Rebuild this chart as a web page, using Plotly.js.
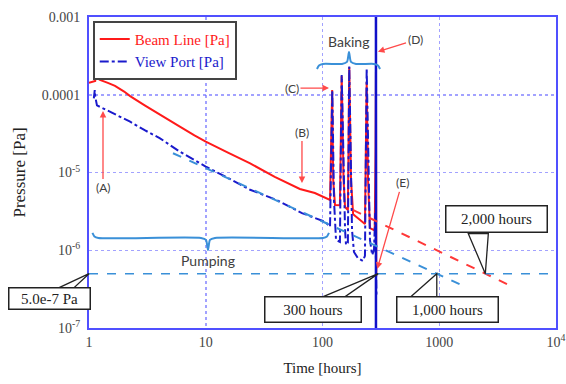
<!DOCTYPE html>
<html>
<head>
<meta charset="utf-8">
<script src="https://cdn.plot.ly/plotly-3.0.1.min.js"></script>
<style>html,body{margin:0;padding:0;background:#fff;}#chart{width:566px;height:384px;}</style>
</head>
<body>
<div id="chart"></div>
<script>
// ---- data ----
const beamX = [1.0, 1.08, 1.13, 1.15, 1.17, 1.2, 1.24, 1.45, 1.67, 2.0, 2.25, 3.0, 4.06, 6.0, 8.0, 10, 15.5, 24, 39, 55, 64, 86, 109, 116, 121, 123.5, 128, 141, 146, 151.5, 156, 165, 169.5, 175.5, 183, 210, 231, 239, 245.5, 255, 270, 280, 285, 287, 289];
const beamY = [1.42e-4, 1.46e-4, 1.5e-4, 2.27e-4, 1.7e-4, 1.6e-4, 1.55e-4, 1.42e-4, 1.3e-4, 1.1e-4, 9.6e-5, 7.3e-5, 5.5e-5, 3.88e-5, 3.0e-5, 2.49e-5, 1.8e-5, 1.31e-5, 8.8e-6, 6.8e-6, 6.14e-6, 5.44e-6, 4.7e-6, 4.43e-6, 1.15e-4, 8e-6, 3.82e-6, 3.8e-6, 1.74e-4, 8e-6, 3.6e-6, 3.3e-6, 2.27e-4, 8e-6, 2.9e-6, 2.45e-6, 2.18e-6, 1.46e-4, 8e-6, 1.93e-6, 1.82e-6, 1.8e-6, 2.0e-5, 2.0e-4, 4.7e-7];

const viewX = [1.1, 1.12, 1.13, 1.15, 1.17, 1.24, 1.6, 2.25, 3.0, 4.06, 6.0, 10, 15.5, 24, 40.5, 66.7, 105, 116, 121.3, 123, 125.4, 130.5, 141, 146, 150, 156, 159, 165, 169.5, 174, 179, 186, 201, 222, 231, 239, 245.5, 255, 266, 276, 283, 290];
const viewY = [9.0e-5, 1.15e-4, 9.5e-5, 7.6e-5, 7.3e-5, 7.0e-5, 5.8e-5, 4.5e-5, 3.5e-5, 2.75e-5, 1.85e-5, 1.19e-5, 8.5e-6, 6.0e-6, 4.43e-6, 3.0e-6, 2.33e-6, 2.01e-6, 1.15e-4, 2.62e-5, 4.43e-6, 1.36e-6, 1.28e-6, 1.8e-4, 1.95e-5, 1.82e-6, 1.17e-6, 1.25e-6, 2.3e-4, 1.95e-5, 1.82e-6, 9.5e-7, 7.9e-7, 7.3e-7, 8.5e-7, 2.2e-4, 1.95e-5, 1.36e-6, 8.7e-7, 1.0e-6, 3.0e-6, 2.5e-7];

const bakeEndX = [287, 287];
const bakeEndY = [1e-3, 1e-7];

const fitBeamX = [182, 4285];
const fitBeamY = [3.3e-6, 3.37e-7];
const fitViewX = [5.24, 1557];
const fitViewY = [1.77e-5, 3.57e-7];

const targetPressure = 5e-7;
const thresholdX = [1, 10000];

const xTickVals = [1, 10, 100, 1000, 10000];
const xTickText = ['1', '10', '100', '1000', '10<sup>4</sup>'];
const yTickVals = [1e-7, 1e-6, 1e-5, 1e-4, 1e-3];
const yTickText = ['10<sup>-7</sup>', '10<sup>-6</sup>', '10<sup>-5</sup>', '0.0001', '0.001'];

const calloutLabels = ['5.0e-7 Pa', '300 hours', '1,000 hours', '2,000 hours'];

// ---- geometry helpers ----
const M = {l: 89, r: 10, t: 17, b: 56};
const PW = 566 - M.l - M.r, PH = 384 - M.t - M.b;
const XR = [0, 4], YR = [-7, -3];
const L = Math.log10;
const xp = x => (L(x) - XR[0]) / (XR[1] - XR[0]);
const yp = y => (L(y) - YR[0]) / (YR[1] - YR[0]);
const sx = (x, px) => x * Math.pow(10, px * (XR[1] - XR[0]) / PW);
const sy = (y, py) => y * Math.pow(10, -py * (YR[1] - YR[0]) / PH);
function crossing(fx, fy, y) {
  const a = (L(fy[1]) - L(fy[0])) / (L(fx[1]) - L(fx[0]));
  return Math.pow(10, L(fx[0]) + (L(y) - L(fy[0])) / a);
}
const t1000 = crossing(fitViewX, fitViewY, targetPressure);
const t2000 = crossing(fitBeamX, fitBeamY, targetPressure);
const calloutX = [1, 300, t1000, t2000];

function brace(x0, x1, xc, yBar, dir) { // dir: +1 hooks down/tip up, -1 hooks up/tip down
  const hook = sy(yBar, 5 * dir), tip = sy(yBar, -12 * dir);
  return {
    x: [x0, sx(x0, 2), sx(x0, 6), sx(xc, -7), sx(xc, -2), xc, sx(xc, 2), sx(xc, 7), sx(x1, -6), sx(x1, -2), x1],
    y: [hook, sy(yBar, 1.5 * dir), yBar, yBar, sy(yBar, -2 * dir), tip, sy(yBar, -2 * dir), yBar, yBar, sy(yBar, 1.5 * dir), hook],
    tip: tip
  };
}
const bake = brace(89.7, 311, 168.6, 2.49e-4, 1);
const pump = brace(1.07, 113.6, 10.45, 1.44e-6, -1);

const serif = 'Liberation Serif, Times New Roman, serif';
const sans = 'Lato, Open Sans, sans-serif';
const lightBlue = '#3a90d8';
const arrowRed = '#ff4a4a';

const traces = [
  {x: beamX, y: beamY, mode: 'lines', name: '<span style="color:#ff1a1a">Beam Line [Pa]</span>',
   line: {color: '#ff1a1a', width: 2}},
  {x: viewX, y: viewY, mode: 'lines', name: '<span style="color:#1a1acc">View Port [Pa]</span>',
   line: {color: '#1a1acc', width: 2, dash: 'dashdot'}},
  {x: bakeEndX, y: bakeEndY, mode: 'lines', showlegend: false, line: {color: '#1010c8', width: 2.5}},
  {x: fitBeamX, y: fitBeamY, mode: 'lines', showlegend: false, line: {color: '#ff3838', width: 2, dash: 'dash'}},
  {x: fitViewX, y: fitViewY, mode: 'lines', showlegend: false, line: {color: lightBlue, width: 2, dash: 'dash'}},
  {x: thresholdX, y: [targetPressure, targetPressure], mode: 'lines', showlegend: false, line: {color: lightBlue, width: 1.5, dash: 'dash'}},
  {x: bake.x, y: bake.y, mode: 'lines', showlegend: false, line: {color: lightBlue, width: 2, shape: 'spline', smoothing: 0.6}},
  {x: pump.x, y: pump.y, mode: 'lines', showlegend: false, line: {color: lightBlue, width: 2, shape: 'spline', smoothing: 0.6}}
];

// callouts (wedge + box), offsets in pixels relative to tip
const wedgeOff = [[[-32, 15], [-16, 15]], [[-55, 23], [-33, 23]], [[-26, 23], [0, 23]], [[-17, -40], [3, -40]]];
const boxOff = [[-39.5, 25], [-65, 36], [10.5, 36], [11.5, -54.5]];
const boxSize = [[83, 23], [98, 27], [103, 27], [103, 28]];
const shapes = [], annotations = [];
calloutLabels.forEach((lab, i) => {
  const tx = xp(calloutX[i]), ty = yp(targetPressure);
  const p = o => [(tx + o[0] / PW).toFixed(5), (ty - o[1] / PH).toFixed(5)];
  const a = p(wedgeOff[i][0]), b = p(wedgeOff[i][1]);
  shapes.push({type: 'path', xref: 'paper', yref: 'paper', layer: 'above',
    path: `M${a[0]},${a[1]} L${tx.toFixed(5)},${ty.toFixed(5)} L${b[0]},${b[1]} Z`,
    fillcolor: '#ffffff', line: {color: '#222', width: 1.3}});
  annotations.push({xref: 'paper', yref: 'paper', x: tx + boxOff[i][0] / PW, y: ty - boxOff[i][1] / PH,
    xanchor: 'center', yanchor: 'middle', showarrow: false, text: lab,
    width: boxSize[i][0] - 7, height: boxSize[i][1] - 7, borderpad: 2, borderwidth: 1.5,
    bordercolor: '#222', bgcolor: '#ffffff', font: {family: serif, size: 15, color: '#222'}});
});

// letter markers (A)-(E)
const marks = [
  {t: '(A)', x: 1.318, y: 6.37e-5, ax: 0, ay: 78},
  {t: '(B)', x: 66.7, y: 7.1e-6, ax: 0, ay: -52},
  {t: '(C)', x: 115.9, y: 1.22e-4, ax: -38, ay: 0},
  {t: '(D)', x: 293, y: 3.55e-4, ax: 38, ay: -12},
  {t: '(E)', x: 293, y: 5.6e-7, ax: 25, ay: -87}
];
marks.forEach(m => annotations.push({xref: 'x', yref: 'y', x: L(m.x), y: L(m.y), ax: m.ax, ay: m.ay,
  text: m.t, showarrow: true, arrowhead: 2, arrowsize: 1, arrowwidth: 1.3, arrowcolor: arrowRed, standoff: 1,
  font: {family: sans, size: 12, color: '#404040'}}));

annotations.push({xref: 'x', yref: 'y', x: L(168.6), y: L(bake.tip), yanchor: 'bottom', showarrow: false,
  text: 'Baking', font: {family: sans, size: 14, color: '#404040'}});
annotations.push({xref: 'x', yref: 'y', x: L(10.45), y: L(pump.tip), yanchor: 'top', showarrow: false,
  text: 'Pumping', font: {family: sans, size: 14, color: '#404040'}});

const axisCommon = {type: 'log', showline: true, mirror: true, linecolor: '#5050ff', linewidth: 2,
  showgrid: true, gridcolor: 'rgba(100,100,255,0.6)', gridwidth: 1.5, griddash: 'dot', zeroline: false,
  ticks: '', tickfont: {family: serif, size: 14, color: '#444'}, tickmode: 'array'};

const layout = {
  width: 566, height: 384, margin: M, paper_bgcolor: '#fff', plot_bgcolor: '#fff',
  xaxis: Object.assign({}, axisCommon, {range: XR, tickvals: xTickVals, ticktext: xTickText,
    title: {text: 'Time [hours]', font: {family: serif, size: 15, color: '#222'}, standoff: 14}}),
  yaxis: Object.assign({}, axisCommon, {range: YR, tickvals: yTickVals, ticktext: yTickText, ticklabelstandoff: 4,
    title: {text: 'Pressure [Pa]', font: {family: serif, size: 17, color: '#222'}, standoff: 12}}),
  showlegend: true,
  legend: {x: 0.008, y: 0.988, xanchor: 'left', yanchor: 'top', bgcolor: '#fff', bordercolor: '#444', borderwidth: 2,
    font: {family: serif, size: 15}, tracegroupgap: 0},
  shapes: shapes, annotations: annotations
};
Plotly.newPlot('chart', traces, layout, {displayModeBar: false, staticPlot: true});
</script>
</body>
</html>
